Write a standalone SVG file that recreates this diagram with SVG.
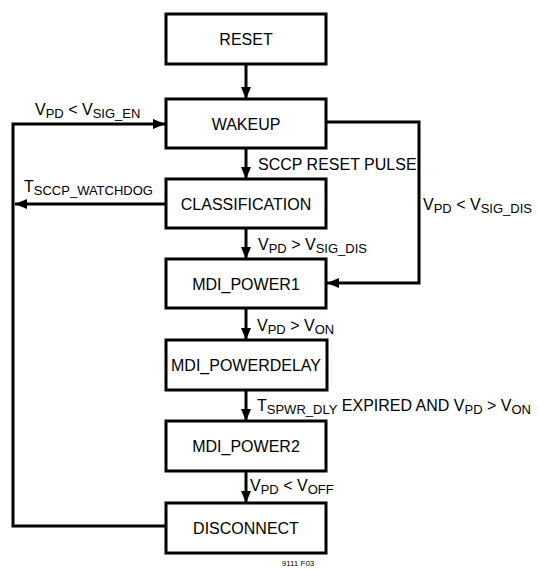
<svg xmlns="http://www.w3.org/2000/svg" width="538" height="570" viewBox="0 0 538 570">
<defs>
<style>
.box{fill:#fff;stroke:#000;stroke-width:3}
.ln{fill:none;stroke:#000;stroke-width:3}
text{font-family:"Liberation Sans Narrow","Liberation Sans",Arial,sans-serif;font-size:16px;fill:#000}
.c{text-anchor:middle}
.s{font-size:13px}
</style>
<marker id="ah" viewBox="0 0 12 10" refX="12" refY="5" markerWidth="12" markerHeight="10" markerUnits="userSpaceOnUse" orient="auto">
<path d="M0,0 L12,5 L0,10 z" fill="#000"/>
</marker>
</defs>
<rect width="538" height="570" fill="#fff"/>
<g id="connectors">
<line class="ln" x1="246" y1="64" x2="246" y2="99" marker-end="url(#ah)"/>
<line class="ln" x1="246" y1="148" x2="246" y2="179" marker-end="url(#ah)"/>
<line class="ln" x1="246" y1="228" x2="246" y2="259" marker-end="url(#ah)"/>
<line class="ln" x1="246" y1="308" x2="246" y2="340" marker-end="url(#ah)"/>
<line class="ln" x1="246" y1="390" x2="246" y2="421" marker-end="url(#ah)"/>
<line class="ln" x1="246" y1="471" x2="246" y2="503" marker-end="url(#ah)"/>
<path class="ln" d="M326 122 H419 V283 H327" marker-end="url(#ah)"/>
<path class="ln" d="M166 526 H13 V124 H165" marker-end="url(#ah)"/>
<line class="ln" x1="166" y1="204" x2="15" y2="204" marker-end="url(#ah)"/>
<text x="258" y="170">SCCP RESET PULSE</text>
<text x="258" y="250">V<tspan class="s" dy="3">PD</tspan><tspan dy="-3"> &gt; V</tspan><tspan class="s" dy="3">SIG_DIS</tspan></text>
<text x="423" y="210">V<tspan class="s" dy="3">PD</tspan><tspan dy="-3"> &lt; V</tspan><tspan class="s" dy="3">SIG_DIS</tspan></text>
<text x="35" y="115">V<tspan class="s" dy="3">PD</tspan><tspan dy="-3"> &lt; V</tspan><tspan class="s" dy="3">SIG_EN</tspan></text>
<text x="24" y="192">T<tspan class="s" dy="3">SCCP_WATCHDOG</tspan></text>
<text x="257" y="331">V<tspan class="s" dy="3">PD</tspan><tspan dy="-3"> &gt; V</tspan><tspan class="s" dy="3">ON</tspan></text>
<text x="257" y="411">T<tspan class="s" dy="3">SPWR_DLY</tspan><tspan dy="-3"> EXPIRED AND V</tspan><tspan class="s" dy="3">PD</tspan><tspan dy="-3"> &gt; V</tspan><tspan class="s" dy="3">ON</tspan></text>
<text x="250" y="491">V<tspan class="s" dy="3">PD</tspan><tspan dy="-3"> &lt; V</tspan><tspan class="s" dy="3">OFF</tspan></text>
</g>
<g id="reset"><rect class="box" x="166" y="14" width="160" height="50"/><text class="c" x="246" y="45">RESET</text></g>
<g id="wakeup"><rect class="box" x="166" y="99" width="160" height="49"/><text class="c" x="246" y="130">WAKEUP</text></g>
<g id="classification"><rect class="box" x="166" y="179" width="160" height="49"/><text class="c" x="246" y="210">CLASSIFICATION</text></g>
<g id="mdi_power1"><rect class="box" x="166" y="259" width="160" height="49"/><text class="c" x="246" y="290">MDI_POWER1</text></g>
<g id="mdi_powerdelay"><rect class="box" x="166" y="340" width="161" height="50"/><text class="c" x="246" y="371">MDI_POWERDELAY</text></g>
<g id="mdi_power2"><rect class="box" x="166" y="421" width="160" height="50"/><text class="c" x="246" y="452">MDI_POWER2</text></g>
<g id="disconnect"><rect class="box" x="166" y="503" width="160" height="50"/><text class="c" x="246" y="534">DISCONNECT</text></g>
<text x="298" y="566" class="c" style="font-size:8px">9111 F03</text>
</svg>
